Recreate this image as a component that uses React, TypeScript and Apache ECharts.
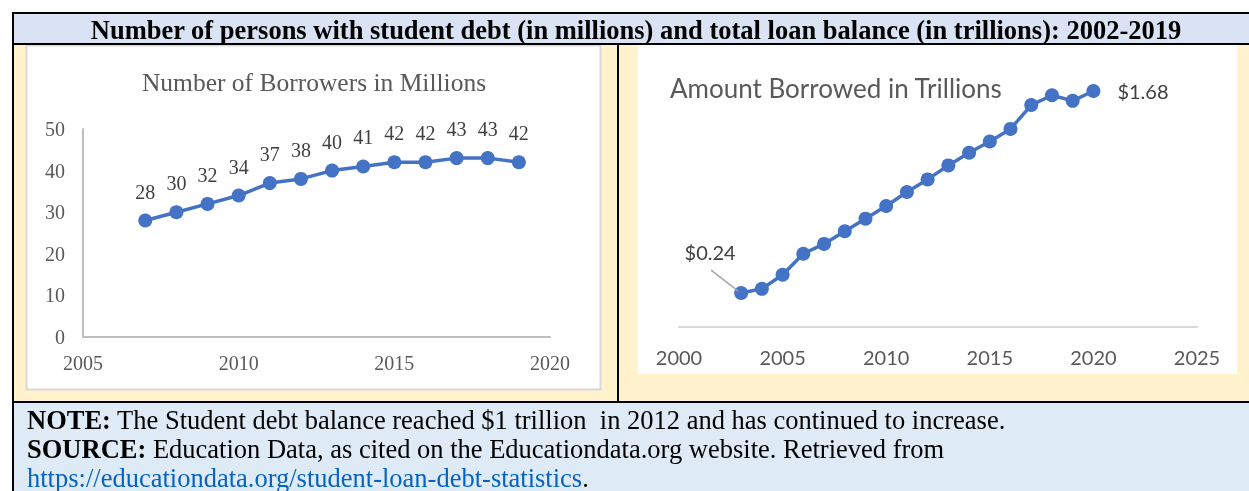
import React, { useEffect, useRef } from "react";
import * as echarts from "echarts";

// ---- Data ----
const borrowerYears = [2007, 2008, 2009, 2010, 2011, 2012, 2013, 2014, 2015, 2016, 2017, 2018, 2019];
const borrowerMillions = [28, 30, 32, 34, 37, 38, 40, 41, 42, 42, 43, 43, 42];

const balanceYears = [2003, 2004, 2005, 2006, 2007, 2008, 2009, 2010, 2011, 2012, 2013, 2014, 2015, 2016, 2017, 2018, 2019, 2020];
const balanceTrillions = [0.24, 0.27, 0.37, 0.52, 0.59, 0.68, 0.77, 0.86, 0.96, 1.05, 1.15, 1.24, 1.32, 1.41, 1.58, 1.65, 1.61, 1.68];

const headerTitle = "Number of persons with student debt (in millions) and total loan balance (in trillions): 2002-2019";
const leftTitle = "Number of Borrowers in Millions";
const rightTitle = "Amount Borrowed in Trillions";
const noteText = "The Student debt balance reached $1 trillion  in 2012 and has continued to increase.";
const sourceText = "Education Data, as cited on the Educationdata.org website. Retrieved from";
const linkText = "https://educationdata.org/student-loan-debt-statistics";

const SERIF = '"Liberation Serif", "Times New Roman", serif';
const SANS = 'Lato, "Liberation Sans", sans-serif';
const BLUE = "#4472c4";
const FOOT = 26.5;

export default function App() {
  const ref = useRef<HTMLDivElement>(null);

  useEffect(() => {
    if (!ref.current) return;
    const chart = echarts.init(ref.current, null, { renderer: "svg" });

    const lastIdx = balanceTrillions.length - 1;
    const balanceData = balanceYears.map((y, i) => {
      const item: any = { value: [y, balanceTrillions[i]] };
      if (i === 0) {
        item.label = { show: true, position: "top", formatter: "$" + balanceTrillions[i].toFixed(2) };
      } else if (i === lastIdx) {
        item.label = { show: true, position: "right", distance: 17, formatter: "$" + balanceTrillions[i].toFixed(2) };
      }
      return item;
    });

    const blackRect = (x: number, y: number, w: number, h: number) => ({
      type: "rect",
      shape: { x, y, width: w, height: h },
      style: { fill: "#000" },
      silent: true,
    });

    const boldRich = { b: { fontWeight: "bold", fontFamily: SERIF, fontSize: FOOT, fill: "#000" } };

    const option: any = {
      animation: false,
      graphic: [
        { type: "rect", shape: { x: 14, y: 14, width: 1235, height: 29 }, style: { fill: "#dae3f3" }, silent: true },
        { type: "rect", shape: { x: 14, y: 45, width: 1235, height: 356 }, style: { fill: "#fff2cc" }, silent: true },
        { type: "rect", shape: { x: 14, y: 403, width: 1235, height: 88 }, style: { fill: "#deeaf6" }, silent: true },
        { type: "rect", shape: { x: 26.5, y: 45.5, width: 574, height: 344 }, style: { fill: "#fff", stroke: "#d9d9d9", lineWidth: 2 }, silent: true },
        { type: "rect", shape: { x: 638, y: 45, width: 599, height: 329 }, style: { fill: "#fff" }, silent: true },
        blackRect(12, 12, 1237, 2),
        blackRect(12, 12, 2, 479),
        blackRect(12, 43, 1237, 2),
        blackRect(12, 401, 1237, 2),
        blackRect(617, 45, 2, 356),
        {
          type: "text",
          x: 636,
          y: 30,
          style: { text: headerTitle, textAlign: "center", textVerticalAlign: "middle", font: "bold 26.5px " + SERIF, fill: "#000" },
        },
        {
          type: "text",
          x: 314,
          y: 82,
          style: { text: leftTitle, textAlign: "center", textVerticalAlign: "middle", font: "25.5px " + SERIF, fill: "#595959" },
        },
        {
          type: "text",
          x: 670,
          y: 88,
          style: { text: rightTitle, textAlign: "left", textVerticalAlign: "middle", font: "26px " + SANS, fill: "#595959" },
        },
        {
          type: "text",
          x: 27,
          y: 420,
          style: {
            text: "{b|NOTE:} " + noteText,
            textVerticalAlign: "middle",
            font: FOOT + "px " + SERIF,
            fill: "#000",
            rich: boldRich,
          },
        },
        {
          type: "text",
          x: 27,
          y: 449,
          style: {
            text: "{b|SOURCE:} " + sourceText,
            textVerticalAlign: "middle",
            font: FOOT + "px " + SERIF,
            fill: "#000",
            rich: boldRich,
          },
        },
        {
          type: "text",
          x: 27,
          y: 478,
          style: {
            text: "{l|" + linkText + "}.",
            textVerticalAlign: "middle",
            font: FOOT + "px " + SERIF,
            fill: "#000",
            rich: { l: { fontFamily: SERIF, fontSize: FOOT, fill: "#0563c1" } },
          },
        },
      ],
      grid: [
        { left: 83, top: 129, width: 467, height: 208 },
        { left: 679, top: 74.2, width: 518, height: 252.5 },
      ],
      xAxis: [
        {
          type: "value",
          gridIndex: 0,
          min: 2005,
          max: 2020,
          interval: 5,
          axisLine: { show: true, lineStyle: { color: "#bfbfbf", width: 2 } },
          axisTick: { show: false },
          splitLine: { show: false },
          axisLabel: { margin: 16, color: "#595959", fontFamily: SERIF, fontSize: 20, formatter: (v: number) => String(v) },
        },
        {
          type: "value",
          gridIndex: 1,
          min: 2000,
          max: 2025,
          interval: 5,
          axisLine: { show: true, lineStyle: { color: "#d9d9d9", width: 2 } },
          axisTick: { show: false },
          splitLine: { show: false },
          axisLabel: { margin: 20, color: "#595959", fontFamily: SANS, fontSize: 20, formatter: (v: number) => String(v) },
        },
      ],
      yAxis: [
        {
          type: "value",
          gridIndex: 0,
          min: 0,
          max: 50,
          interval: 10,
          axisLine: { show: true, lineStyle: { color: "#bfbfbf", width: 2 } },
          axisTick: { show: false },
          splitLine: { show: false },
          axisLabel: { margin: 18, color: "#595959", fontFamily: SERIF, fontSize: 20 },
        },
        {
          type: "value",
          gridIndex: 1,
          min: 0,
          max: 1.8,
          show: false,
          splitLine: { show: false },
        },
      ],
      series: [
        {
          type: "line",
          xAxisIndex: 0,
          yAxisIndex: 0,
          data: borrowerYears.map((y, i) => [y, borrowerMillions[i]]),
          symbol: "circle",
          symbolSize: 14,
          itemStyle: { color: BLUE },
          lineStyle: { color: BLUE, width: 3.5 },
          label: { show: true, position: "top", distance: 12, color: "#404040", fontFamily: SERIF, fontSize: 20 },
        },
        {
          type: "line",
          xAxisIndex: 1,
          yAxisIndex: 1,
          data: balanceData,
          symbol: "circle",
          symbolSize: 14,
          itemStyle: { color: BLUE },
          lineStyle: { color: BLUE, width: 3.5 },
          label: { show: false, color: "#404040", fontFamily: SANS, fontSize: 20 },
          labelLayout: (params: any) => (params.dataIndex === 0 ? { dx: -31, dy: -19 } : {}),
        },
        {
          // leader line for the first data label, anchored at the first data point
          type: "custom",
          xAxisIndex: 1,
          yAxisIndex: 1,
          z: 5,
          silent: true,
          data: [[balanceYears[0], balanceTrillions[0]]],
          renderItem: (_params: any, api: any) => {
            const p = api.coord([api.value(0), api.value(1)]);
            return {
              type: "line",
              shape: { x1: p[0] - 30, y1: p[1] - 23, x2: p[0] - 3, y2: p[1] - 2 },
              style: { stroke: "#a6a6a6", lineWidth: 1.5 },
            };
          },
        },
      ],
    };

    chart.setOption(option);
    return () => chart.dispose();
  }, []);

  return <div ref={ref} style={{ position: "fixed", left: 0, top: 0, width: 1249, height: 491 }} />;
}
